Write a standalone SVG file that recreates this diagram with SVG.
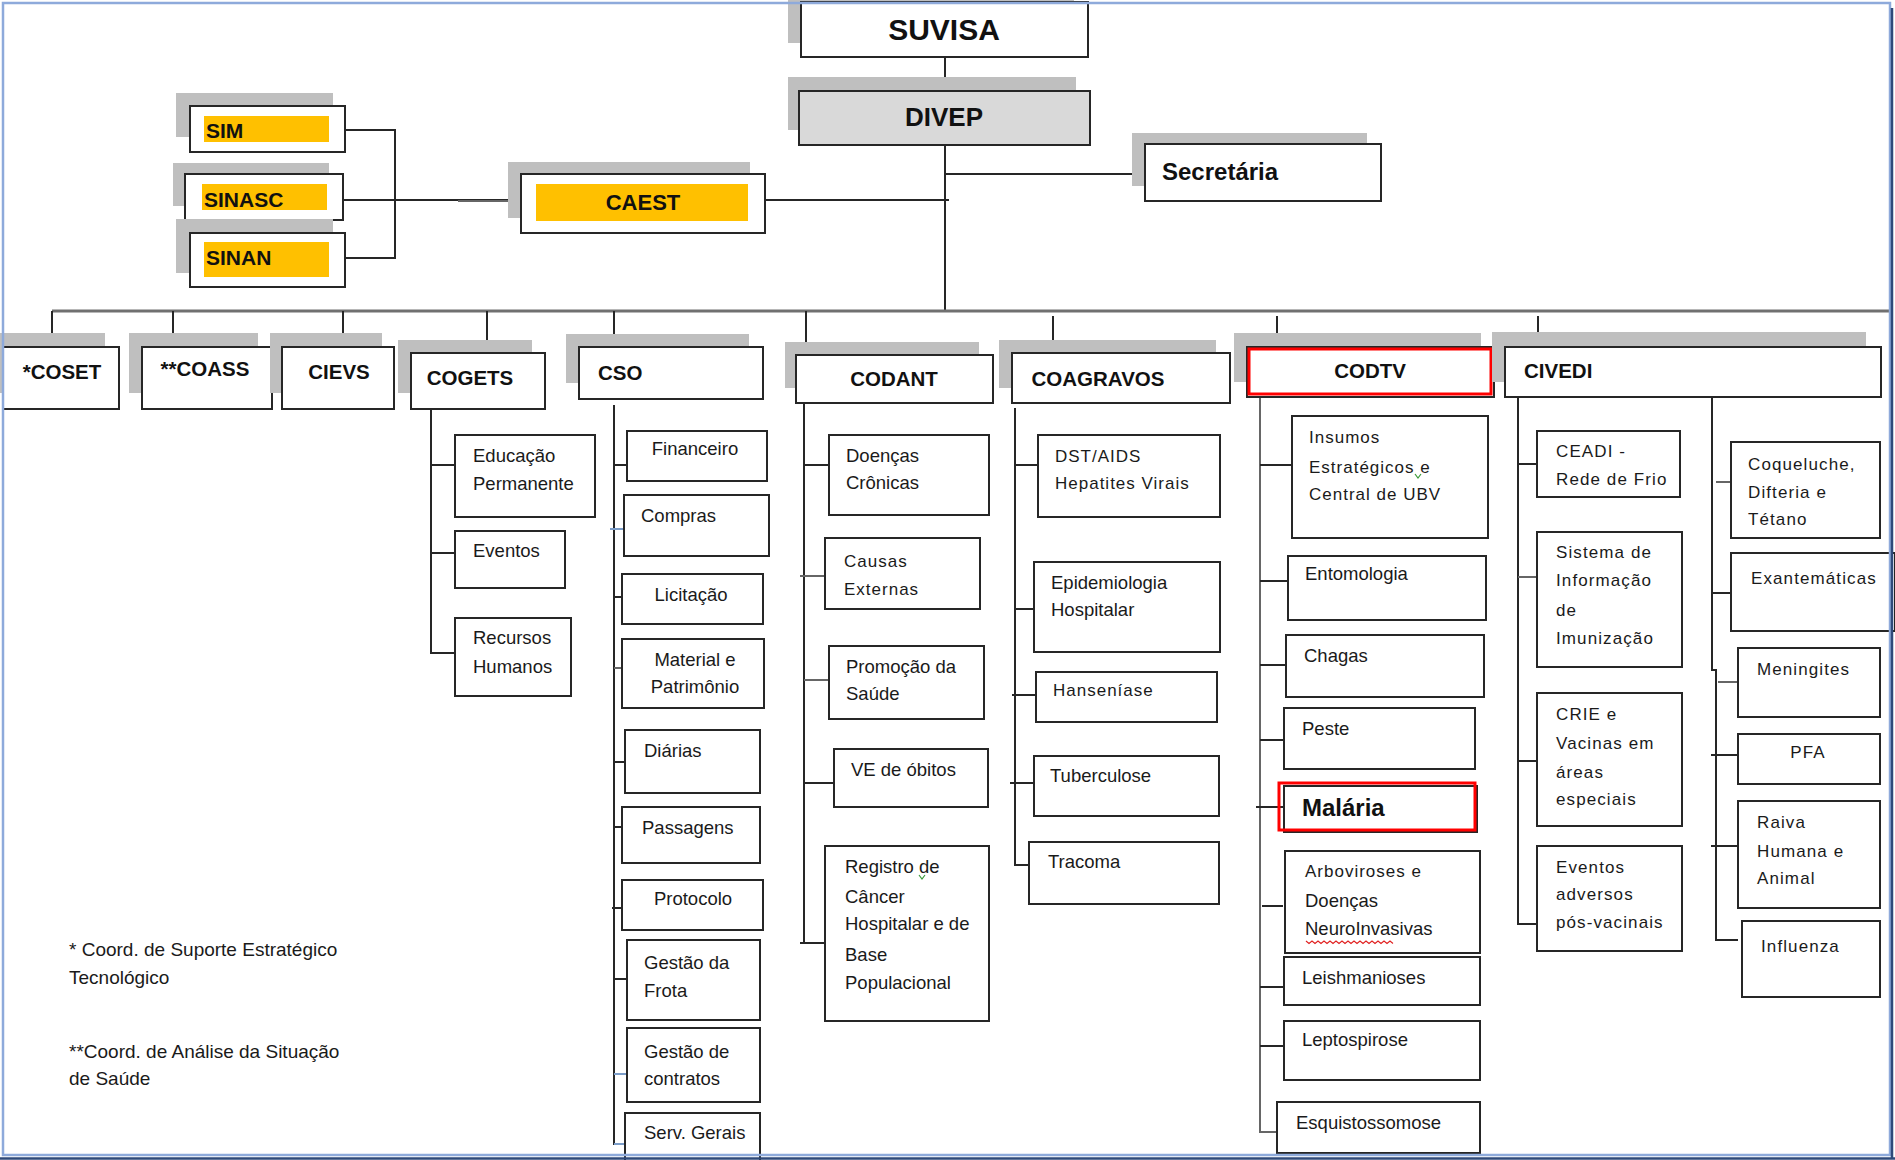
<svg xmlns="http://www.w3.org/2000/svg" width="1895" height="1160" viewBox="0 0 1895 1160">
<style>
.bg{fill:#fff}
.b{fill:#fff;stroke:#262626;stroke-width:2}
.sh{fill:#bfbfbf}
.y{fill:#ffc000}
.red{fill:none;stroke:#ff0000;stroke-width:3}
.c{stroke:#262626;stroke-width:2;fill:none}
.cg{stroke:#666;stroke-width:2;fill:none}
.cb{stroke:#7a9cc8;stroke-width:2;fill:none}
.bus{stroke:#707070;stroke-width:3;fill:none}
.t{font-family:"Liberation Sans",Arial,sans-serif;font-size:18.5px;fill:#1a1a1a}
.ts{font-family:"Liberation Sans",Arial,sans-serif;font-size:17px;letter-spacing:1px;fill:#1a1a1a}
.tv{font-family:"Liberation Sans",Arial,sans-serif;font-size:17px;letter-spacing:1.1px;fill:#1a1a1a}
.fn{font-family:"Liberation Sans",Arial,sans-serif;font-size:19px;fill:#1a1a1a}
.h1{font-family:"Liberation Sans",Arial,sans-serif;font-weight:bold;fill:#111}
.h2{font-family:"Liberation Sans",Arial,sans-serif;font-weight:bold;font-size:20.5px;fill:#111}
.m{text-anchor:middle}
</style>
<rect class="bg" x="0" y="0" width="1895" height="1160"/>

<!-- connectors -->
<g id="connectors">
  <line class="c" x1="945" y1="57" x2="945" y2="91"/>
  <line class="c" x1="945" y1="145" x2="945" y2="311"/>
  <line class="c" x1="945" y1="174" x2="1145" y2="174"/>
  <line class="c" x1="765" y1="200" x2="949" y2="200"/>
  <polyline class="c" points="345,130 395,130 395,258 345,258"/>
  <line class="c" x1="343" y1="200" x2="521" y2="200"/>
  <line class="cg" x1="458" y1="201" x2="521" y2="201"/>
  <line class="bus" x1="52" y1="311" x2="1892" y2="311"/>
  <line class="c" x1="52" y1="311" x2="52" y2="347"/>
  <line class="c" x1="173" y1="311" x2="173" y2="347"/>
  <line class="c" x1="343" y1="311" x2="343" y2="347"/>
  <line class="c" x1="487" y1="311" x2="487" y2="353"/>
  <line class="c" x1="614" y1="311" x2="614" y2="347"/>
  <line class="c" x1="806" y1="311" x2="806" y2="355"/>
  <line class="c" x1="1053" y1="316" x2="1053" y2="353"/>
  <line class="c" x1="1277" y1="316" x2="1277" y2="347"/>
  <line class="c" x1="1538" y1="316" x2="1538" y2="347"/>

  <!-- COGETS -->
  <polyline class="c" points="431,409 431,653 455,653"/>
  <line class="c" x1="431" y1="465" x2="455" y2="465"/>
  <line class="c" x1="431" y1="553" x2="455" y2="553"/>

  <!-- CSO -->
  <line class="c" x1="614" y1="405" x2="614" y2="1145"/>
  <line class="c" x1="614" y1="465" x2="627" y2="465"/>
  <line class="cb" x1="610" y1="529" x2="630" y2="529"/>
  <line class="c" x1="614" y1="597" x2="622" y2="597"/>
  <line class="cg" x1="614" y1="668" x2="622" y2="668"/>
  <line class="c" x1="614" y1="762" x2="625" y2="762"/>
  <line class="c" x1="614" y1="827" x2="622" y2="827"/>
  <line class="c" x1="612" y1="908" x2="622" y2="908"/>
  <line class="c" x1="614" y1="979" x2="627" y2="979"/>
  <line class="cb" x1="614" y1="1074" x2="629" y2="1074"/>
  <line class="cb" x1="614" y1="1144" x2="629" y2="1144"/>

  <!-- CODANT -->
  <line class="c" x1="804" y1="403" x2="804" y2="943"/>
  <line class="c" x1="804" y1="465" x2="829" y2="465"/>
  <line class="cg" x1="800" y1="576" x2="825" y2="576"/>
  <line class="cg" x1="804" y1="680" x2="829" y2="680"/>
  <line class="c" x1="804" y1="783" x2="834" y2="783"/>
  <line class="c" x1="800" y1="943" x2="825" y2="943"/>

  <!-- COAGRAVOS -->
  <polyline class="c" points="1015,408 1015,865 1029,865"/>
  <line class="c" x1="1015" y1="465" x2="1038" y2="465"/>
  <line class="c" x1="1015" y1="609" x2="1034" y2="609"/>
  <line class="c" x1="1012" y1="695" x2="1036" y2="695"/>
  <line class="c" x1="1010" y1="783" x2="1034" y2="783"/>

  <!-- CODTV -->
  <polyline class="cg" points="1260,397 1260,1132 1277,1132"/>
  <line class="c" x1="1260" y1="465" x2="1292" y2="465"/>
  <line class="c" x1="1260" y1="581" x2="1288" y2="581"/>
  <line class="c" x1="1260" y1="665" x2="1286" y2="665"/>
  <line class="c" x1="1260" y1="740" x2="1284" y2="740"/>
  <line class="c" x1="1256" y1="807" x2="1289" y2="807"/>
  <line class="c" x1="1262" y1="906" x2="1283" y2="906"/>
  <line class="c" x1="1260" y1="987" x2="1284" y2="987"/>
  <line class="c" x1="1260" y1="1046" x2="1284" y2="1046"/>

  <!-- CIVEDI -->
  <polyline class="c" points="1518,397 1518,924 1537,924"/>
  <line class="c" x1="1518" y1="464" x2="1537" y2="464"/>
  <line class="cg" x1="1518" y1="577" x2="1537" y2="577"/>
  <line class="c" x1="1518" y1="761" x2="1537" y2="761"/>
  <polyline class="c" points="1712,397 1712,670 1716,670 1716,940 1738,940"/>
  <line class="cg" x1="1716" y1="482" x2="1731" y2="482"/>
  <line class="c" x1="1712" y1="593" x2="1731" y2="593"/>
  <line class="cg" x1="1718" y1="682" x2="1738" y2="682"/>
  <line class="c" x1="1711" y1="755" x2="1740" y2="755"/>
  <line class="c" x1="1711" y1="846" x2="1738" y2="846"/>
</g>

<!-- top nodes -->
<g id="suvisa">
  <rect class="sh" x="788" y="0" width="286" height="43"/>
  <rect class="b" x="801" y="2" width="287" height="55"/>
  <text class="h1 m" x="944" y="40" font-size="30">SUVISA</text>
</g>
<g id="divep">
  <rect class="sh" x="788" y="77" width="288" height="53"/>
  <rect class="b" x="799" y="91" width="291" height="54" style="fill:#d9d9d9"/>
  <text class="h1 m" x="944" y="126" font-size="26">DIVEP</text>
</g>
<g id="secretaria">
  <rect class="sh" x="1132" y="133" width="235" height="53"/>
  <rect class="b" x="1145" y="144" width="236" height="57"/>
  <text class="h1" x="1162" y="180" font-size="24">Secretária</text>
</g>
<g id="caest">
  <rect class="sh" x="508" y="162" width="242" height="56"/>
  <rect class="b" x="521" y="174" width="244" height="59"/>
  <rect class="y" x="536" y="184" width="212" height="37"/>
  <text class="h1 m" x="643" y="210" font-size="22">CAEST</text>
</g>
<g id="sim">
  <rect class="sh" x="176" y="93" width="157" height="44"/>
  <rect class="b" x="190" y="106" width="155" height="46"/>
  <rect class="y" x="204" y="116" width="125" height="26"/>
  <text class="h1" x="206" y="138" font-size="21">SIM</text>
</g>
<g id="sinasc">
  <rect class="sh" x="173" y="163" width="156" height="43"/>
  <rect class="b" x="185" y="174" width="158" height="46"/>
  <rect class="y" x="202" y="184" width="125" height="26"/>
  <text class="h1" x="204" y="207" font-size="21">SINASC</text>
</g>
<g id="sinan">
  <rect class="sh" x="176" y="219" width="157" height="54"/>
  <rect class="b" x="190" y="233" width="155" height="54"/>
  <rect class="y" x="204" y="242" width="125" height="35"/>
  <text class="h1" x="206" y="265" font-size="21">SINAN</text>
</g>

<!-- second level -->
<g id="coset">
  <rect class="sh" x="0" y="333" width="105" height="60"/>
  <rect class="b" x="3" y="347" width="116" height="62"/>
  <text class="h2 m" x="62" y="379">*COSET</text>
</g>
<g id="coass">
  <rect class="sh" x="129" y="333" width="129" height="60"/>
  <rect class="b" x="142" y="347" width="130" height="62"/>
  <text class="h2 m" x="205" y="376">**COASS</text>
</g>
<g id="cievs">
  <rect class="sh" x="270" y="333" width="112" height="60"/>
  <rect class="b" x="282" y="347" width="112" height="62"/>
  <text class="h2 m" x="339" y="379">CIEVS</text>
</g>
<g id="cogets">
  <rect class="sh" x="398" y="340" width="134" height="53"/>
  <rect class="b" x="411" y="353" width="134" height="56"/>
  <text class="h2 m" x="470" y="385">COGETS</text>
</g>
<g id="cso">
  <rect class="sh" x="566" y="334" width="183" height="49"/>
  <rect class="b" x="579" y="347" width="184" height="52"/>
  <text class="h2" x="598" y="380">CSO</text>
</g>
<g id="codant">
  <rect class="sh" x="785" y="342" width="194" height="46"/>
  <rect class="b" x="796" y="355" width="197" height="48"/>
  <text class="h2 m" x="894" y="386">CODANT</text>
</g>
<g id="coagravos">
  <rect class="sh" x="999" y="340" width="217" height="48"/>
  <rect class="b" x="1012" y="353" width="218" height="50"/>
  <text class="h2 m" x="1098" y="386">COAGRAVOS</text>
</g>
<g id="codtv">
  <rect class="sh" x="1234" y="333" width="247" height="49"/>
  <rect class="b" x="1247" y="347" width="247" height="50"/>
  <rect class="red" x="1249" y="349" width="242" height="45"/>
  <text class="h2 m" x="1370" y="378">CODTV</text>
</g>
<g id="civedi">
  <rect class="sh" x="1492" y="332" width="374" height="50"/>
  <rect class="b" x="1505" y="347" width="376" height="50"/>
  <text class="h2" x="1524" y="378">CIVEDI</text>
</g>

<!-- COGETS children -->
<g id="educacao"><rect class="b" x="455" y="435" width="140" height="82"/><text class="t" x="473" y="462">Educação</text><text class="t" x="473" y="490">Permanente</text></g>
<g id="eventos"><rect class="b" x="455" y="531" width="110" height="57"/><text class="t" x="473" y="557">Eventos</text></g>
<g id="rh"><rect class="b" x="455" y="618" width="116" height="78"/><text class="t" x="473" y="644">Recursos</text><text class="t" x="473" y="673">Humanos</text></g>

<!-- CSO children -->
<g id="financeiro"><rect class="b" x="627" y="431" width="140" height="50"/><text class="t m" x="695" y="455">Financeiro</text></g>
<g id="compras"><rect class="b" x="624" y="495" width="145" height="61"/><text class="t" x="641" y="522">Compras</text></g>
<g id="licitacao"><rect class="b" x="622" y="574" width="141" height="50"/><text class="t m" x="691" y="601">Licitação</text></g>
<g id="material"><rect class="b" x="622" y="639" width="142" height="69"/><text class="t m" x="695" y="666">Material e</text><text class="t m" x="695" y="693">Patrimônio</text></g>
<g id="diarias"><rect class="b" x="625" y="730" width="135" height="63"/><text class="t" x="644" y="757">Diárias</text></g>
<g id="passagens"><rect class="b" x="622" y="807" width="138" height="56"/><text class="t" x="642" y="834">Passagens</text></g>
<g id="protocolo"><rect class="b" x="622" y="880" width="141" height="50"/><text class="t m" x="693" y="905">Protocolo</text></g>
<g id="frota"><rect class="b" x="627" y="940" width="133" height="80"/><text class="t" x="644" y="969">Gestão da</text><text class="t" x="644" y="997">Frota</text></g>
<g id="contratos"><rect class="b" x="627" y="1028" width="133" height="74"/><text class="t" x="644" y="1058">Gestão de</text><text class="t" x="644" y="1085">contratos</text></g>
<g id="servgerais"><rect class="b" x="625" y="1113" width="135" height="60"/><text class="t" x="644" y="1139">Serv. Gerais</text></g>

<!-- CODANT children -->
<g id="cronicas"><rect class="b" x="829" y="435" width="160" height="80"/><text class="t" x="846" y="462">Doenças</text><text class="t" x="846" y="489">Crônicas</text></g>
<g id="externas"><rect class="b" x="825" y="538" width="155" height="71"/><text class="ts" x="844" y="567">Causas</text><text class="ts" x="844" y="595">Externas</text></g>
<g id="promocao"><rect class="b" x="829" y="646" width="155" height="73"/><text class="t" x="846" y="673">Promoção da</text><text class="t" x="846" y="700">Saúde</text></g>
<g id="obitos"><rect class="b" x="834" y="749" width="154" height="58"/><text class="t" x="851" y="776">VE de óbitos</text></g>
<g id="registro"><rect class="b" x="825" y="846" width="164" height="175"/>
  <text class="t" x="845" y="873">Registro de</text><text class="t" x="845" y="903">Câncer</text><text class="t" x="845" y="930">Hospitalar e de</text><text class="t" x="845" y="961">Base</text><text class="t" x="845" y="989">Populacional</text>
  <path d="M919,875 l3,4 l3,-4" fill="none" stroke="#3a9a3a" stroke-width="1.2"/>
</g>

<!-- COAGRAVOS children -->
<g id="dstaids"><rect class="b" x="1038" y="435" width="182" height="82"/><text class="ts" x="1055" y="462">DST/AIDS</text><text class="ts" x="1055" y="489">Hepatites Virais</text></g>
<g id="epidemiologia"><rect class="b" x="1034" y="562" width="186" height="90"/><text class="t" x="1051" y="589">Epidemiologia</text><text class="t" x="1051" y="616">Hospitalar</text></g>
<g id="hanseniase"><rect class="b" x="1036" y="672" width="181" height="50"/><text class="ts" x="1053" y="696">Hanseníase</text></g>
<g id="tuberculose"><rect class="b" x="1034" y="756" width="185" height="60"/><text class="t" x="1050" y="782">Tuberculose</text></g>
<g id="tracoma"><rect class="b" x="1029" y="842" width="190" height="62"/><text class="t" x="1048" y="868">Tracoma</text></g>

<!-- CODTV children -->
<g id="insumos"><rect class="b" x="1292" y="416" width="196" height="122"/><text class="ts" x="1309" y="443">Insumos</text><text class="ts" x="1309" y="473">Estratégicos e</text><text class="ts" x="1309" y="500">Central de UBV</text>
  <path d="M1415,474 l3,4 l3,-4" fill="none" stroke="#3a9a3a" stroke-width="1.2"/></g>
<g id="entomologia"><rect class="b" x="1288" y="556" width="198" height="64"/><text class="t" x="1305" y="580">Entomologia</text></g>
<g id="chagas"><rect class="b" x="1286" y="635" width="198" height="62"/><text class="t" x="1304" y="662">Chagas</text></g>
<g id="peste"><rect class="b" x="1284" y="708" width="191" height="61"/><text class="t" x="1302" y="735">Peste</text></g>
<g id="malaria"><rect class="b" x="1284" y="786" width="193" height="46"/><rect class="red" x="1279" y="783" width="196" height="47"/><text class="h1" x="1302" y="816" font-size="24">Malária</text></g>
<g id="arboviroses"><rect class="b" x="1285" y="851" width="195" height="102"/><text class="ts" x="1305" y="877">Arboviroses e</text><text class="t" x="1305" y="907">Doenças</text><text class="t" x="1305" y="935">NeuroInvasivas</text>
  <path d="M1306,941 l3,2.5 l3,-2.5 l3,2.5 l3,-2.5 l3,2.5 l3,-2.5 l3,2.5 l3,-2.5 l3,2.5 l3,-2.5 l3,2.5 l3,-2.5 l3,2.5 l3,-2.5 l3,2.5 l3,-2.5 l3,2.5 l3,-2.5 l3,2.5 l3,-2.5 l3,2.5 l3,-2.5 l3,2.5 l3,-2.5 l3,2.5 l3,-2.5 l3,2.5 l3,-2.5 l3,2.5" fill="none" stroke="#e02020" stroke-width="1.1"/></g>
<g id="leishmanioses"><rect class="b" x="1284" y="957" width="196" height="48"/><text class="t" x="1302" y="984">Leishmanioses</text></g>
<g id="leptospirose"><rect class="b" x="1284" y="1021" width="196" height="59"/><text class="t" x="1302" y="1046">Leptospirose</text></g>
<g id="esquistossomose"><rect class="b" x="1277" y="1102" width="203" height="51"/><text class="t" x="1296" y="1129">Esquistossomose</text></g>

<!-- CIVEDI children -->
<g id="ceadi"><rect class="b" x="1537" y="431" width="143" height="66"/><text class="tv" x="1556" y="457">CEADI -</text><text class="tv" x="1556" y="485">Rede de Frio</text></g>
<g id="sistema"><rect class="b" x="1537" y="532" width="145" height="135"/><text class="tv" x="1556" y="558">Sistema de</text><text class="tv" x="1556" y="586">Informação</text><text class="tv" x="1556" y="616">de</text><text class="tv" x="1556" y="644">Imunização</text></g>
<g id="crie"><rect class="b" x="1537" y="693" width="145" height="133"/><text class="tv" x="1556" y="720">CRIE e</text><text class="tv" x="1556" y="749">Vacinas em</text><text class="tv" x="1556" y="778">áreas</text><text class="tv" x="1556" y="805">especiais</text></g>
<g id="adversos"><rect class="b" x="1537" y="846" width="145" height="105"/><text class="tv" x="1556" y="873">Eventos</text><text class="tv" x="1556" y="900">adversos</text><text class="tv" x="1556" y="928">pós-vacinais</text></g>
<g id="coqueluche"><rect class="b" x="1731" y="442" width="149" height="96"/><text class="tv" x="1748" y="470">Coqueluche,</text><text class="tv" x="1748" y="498">Difteria e</text><text class="tv" x="1748" y="525">Tétano</text></g>
<g id="exantematicas"><rect class="b" x="1731" y="553" width="164" height="78"/><text class="tv" x="1751" y="584">Exantemáticas</text></g>
<g id="meningites"><rect class="b" x="1738" y="648" width="142" height="69"/><text class="tv" x="1757" y="675">Meningites</text></g>
<g id="pfa"><rect class="b" x="1738" y="734" width="142" height="50"/><text class="tv m" x="1808" y="758">PFA</text></g>
<g id="raiva"><rect class="b" x="1738" y="801" width="142" height="107"/><text class="tv" x="1757" y="828">Raiva</text><text class="tv" x="1757" y="857">Humana e</text><text class="tv" x="1757" y="884">Animal</text></g>
<g id="influenza"><rect class="b" x="1742" y="921" width="138" height="76"/><text class="tv" x="1761" y="952">Influenza</text></g>

<!-- footnotes -->
<g id="notes">
  <text class="fn" x="69" y="956">* Coord. de Suporte Estratégico</text>
  <text class="fn" x="69" y="984">Tecnológico</text>
  <text class="fn" x="69" y="1058">**Coord. de Análise da Situação</text>
  <text class="fn" x="69" y="1085">de Saúde</text>
</g>

<!-- frame -->
<g id="frame">
  <rect x="3" y="3" width="1887" height="1152" fill="none" stroke="#8eaadb" stroke-width="2.5"/>
  <line x1="1892" y1="8" x2="1892" y2="1159" stroke="#2f4a7a" stroke-width="2.5"/>
  <line x1="0" y1="1158.5" x2="1895" y2="1158.5" stroke="#2f4a7a" stroke-width="2.5"/>
</g>
</svg>
